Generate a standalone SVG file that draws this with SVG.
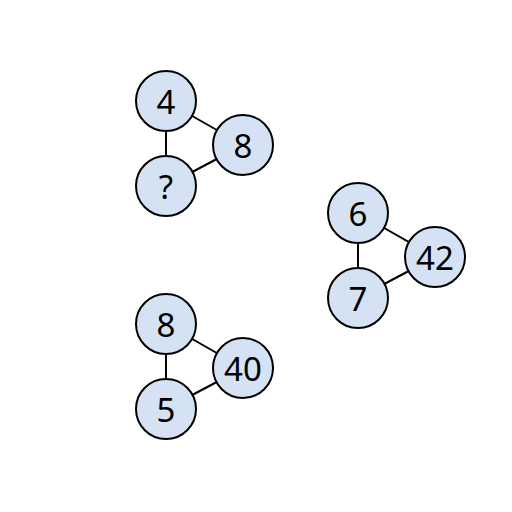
<svg xmlns="http://www.w3.org/2000/svg" width="512" height="512" viewBox="0 0 512 512">
<style>
.n circle{fill:#d4e2f4;stroke:#000;stroke-width:2}
.n text{font-family:"Noto Sans","DejaVu Sans",sans-serif;font-size:33px;text-anchor:middle;fill:#000}
.e line{stroke:#000;stroke-width:2}
</style>
<rect width="512" height="512" fill="#fff"/>
<g id="connectors" class="e">
<line x1="166" y1="101" x2="166" y2="186"/>
<line x1="166" y1="101" x2="243" y2="145"/>
<line x1="166" y1="186" x2="243" y2="145"/>
<line x1="358" y1="213" x2="358" y2="298"/>
<line x1="358" y1="213" x2="435" y2="257"/>
<line x1="358" y1="298" x2="435" y2="257"/>
<line x1="166" y1="324" x2="166" y2="409"/>
<line x1="166" y1="324" x2="243" y2="368"/>
<line x1="166" y1="409" x2="243" y2="368"/>
</g>
<g id="n4" class="n"><circle cx="166" cy="101" r="30"/><text x="166" y="114">4</text></g>
<g id="n8a" class="n"><circle cx="243" cy="145" r="30"/><text x="243" y="158">8</text></g>
<g id="nq" class="n"><circle cx="166" cy="186" r="30"/><text x="166" y="199">?</text></g>
<g id="n6" class="n"><circle cx="358" cy="213" r="30"/><text x="358" y="226">6</text></g>
<g id="n42" class="n"><circle cx="435" cy="257" r="30"/><text x="435" y="270">42</text></g>
<g id="n7" class="n"><circle cx="358" cy="298" r="30"/><text x="358" y="311">7</text></g>
<g id="n8b" class="n"><circle cx="166" cy="324" r="30"/><text x="166" y="337">8</text></g>
<g id="n40" class="n"><circle cx="243" cy="368" r="30"/><text x="243" y="381">40</text></g>
<g id="n5" class="n"><circle cx="166" cy="409" r="30"/><text x="166" y="422">5</text></g>
</svg>
